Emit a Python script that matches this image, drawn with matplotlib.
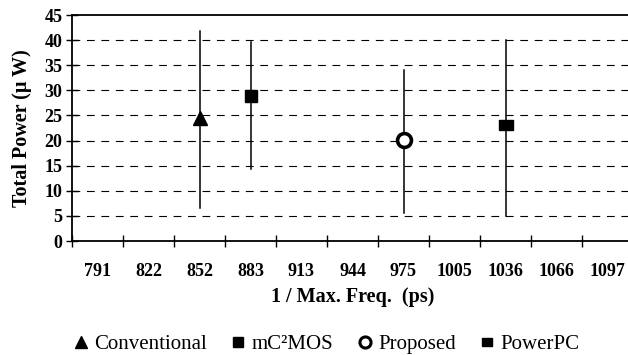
import matplotlib
matplotlib.use("Agg")
import matplotlib.pyplot as plt
from matplotlib.lines import Line2D
import numpy as np

categories = ["791", "822", "852", "883", "913", "944", "975", "1005", "1036", "1066", "1097"]
series = ["Conventional", "mC\u00b2MOS", "Proposed", "PowerPC"]
series_cat = ["852", "883", "975", "1036"]
series_val = [24.5, 28.8, 20.2, 23.0]
series_low = [6.6, 14.4, 5.6, 5.0]
series_high = [41.8, 39.6, 34.0, 40.0]
yticks = [0, 5, 10, 15, 20, 25, 30, 35, 40, 45]

plt.rcParams['font.family'] = ['Liberation Serif', 'DejaVu Serif']

fig = plt.figure(figsize=(6.28, 3.55), dpi=100)
ax = fig.add_axes([72/628, 1-241/355, (633-72)/628, (241-15)/355])

ax.set_xlim(0, len(categories))
ax.set_ylim(0, 45)

# dashed gridlines
for y in yticks[1:-1]:
    ax.axhline(y, color='black', lw=0.8, ls=(0, (7, 6)), zorder=1)

rect = [(-1, -0.75), (1, -0.75), (1, 0.75), (-1, 0.75), (-1, -0.75)]
styles = [
    dict(marker='^', markersize=10.5, mfc='black', mec='black'),
    dict(marker='s', markersize=9, mfc='black', mec='black'),
    dict(marker='o', markersize=10, mfc='white', mec='black', mew=2.6),
    dict(marker=rect, markersize=9.5, mfc='black', mec='black'),
]
handles = []
for name, cat, v, lo, hi, st in zip(series, series_cat, series_val, series_low, series_high, styles):
    x = categories.index(cat) + 0.5
    ax.plot([x, x], [lo, hi], color='black', lw=1.1, zorder=3)
    ax.plot([x], [v], ls='none', zorder=4, **st)
    hst = dict(st)
    hst['markersize'] = st['markersize'] * 0.8
    if 'mew' in hst:
        hst['mew'] = 2.2
    handles.append(Line2D([], [], ls='none', **hst))

ax.set_xticks(np.arange(len(categories) + 1))
ax.set_xticklabels([])
ax.set_xticks(np.arange(len(categories)) + 0.5, minor=True)
ax.set_xticklabels(categories, minor=True, fontweight='bold', fontsize=13)
ax.tick_params(axis='x', which='major', direction='inout', length=8, width=1, color='black')
ax.tick_params(axis='x', which='minor', length=0, pad=16)
ax.set_yticks(yticks)
ax.set_yticklabels([str(t) for t in yticks], fontweight='bold', fontsize=13)
ax.tick_params(axis='y', direction='inout', length=8, width=1, pad=3)

for s in ['left', 'bottom', 'top']:
    ax.spines[s].set_linewidth(1.3)
    ax.spines[s].set_color('black')
ax.spines['right'].set_visible(False)

ax.set_ylabel("Total Power (\u03bc W)", fontweight='bold', fontsize=14.5, labelpad=9)
ax.set_xlabel("1 / Max. Freq.  (ps)", fontweight='bold', fontsize=14.5, labelpad=5)

fig.legend(handles, series, loc='center', bbox_to_anchor=(327/628, 1-344/355),
           ncol=4, frameon=False, fontsize=15, handlelength=0.6, handletextpad=0.35,
           columnspacing=1.2, borderpad=0)

fig.savefig("out.png", dpi=100)
